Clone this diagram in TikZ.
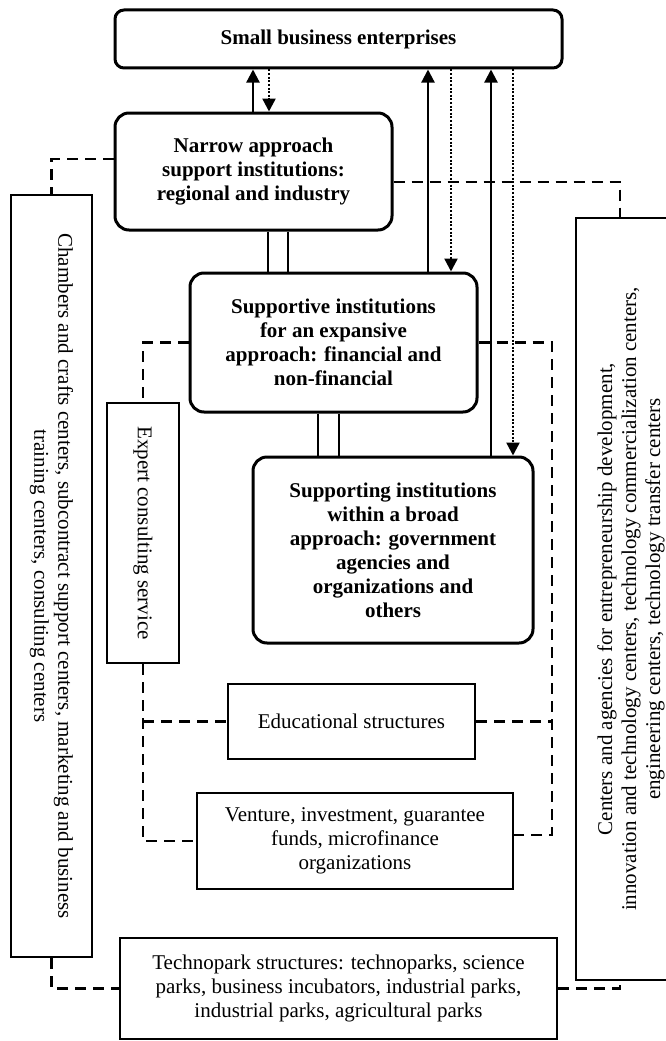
\documentclass[tikz,border=0pt]{standalone}
\usepackage{fontspec}
\setmainfont{Liberation Serif}
\usetikzlibrary{arrows.meta}
\begin{document}
\begin{tikzpicture}[x=1pt,y=-1pt,
  every node/.style={font=\fontsize{21}{24}\selectfont},
  mainbox/.style={draw, line width=3pt, rounded corners=14pt, align=center, inner sep=0pt, font=\fontsize{21}{24}\selectfont\bfseries},
  plainbox/.style={draw, line width=2.2pt, align=center, inner sep=0pt},
  sarrow/.style={line width=2.2pt, -{Triangle[length=13pt,width=13pt]}},
  darrow/.style={line width=2.4pt, dash pattern=on 2pt off 1.6pt, -{Triangle[length=13pt,width=13pt]}},
  dline/.style={line width=2.3pt, dash pattern=on 11pt off 7pt},
  dbl/.style={line width=2.2pt}
]
\fill[white] (0,0) rectangle (666,1041);
\useasboundingbox (0,0) rectangle (666,1041);

\node[mainbox, rounded corners=9pt, minimum width=447pt, minimum height=58pt] (small) at (338.5,39) {Small business enterprises};
\node[mainbox, minimum width=277pt, minimum height=117pt] (narrow) at (253.5,171.5) {Narrow approach\\support institutions:\\regional and industry};
\node[mainbox, minimum width=287pt, minimum height=139pt] (supportive) at (333.5,342.5) {Supportive institutions\\for an expansive\\approach: financial and\\non-financial};
\node[mainbox, minimum width=280pt, minimum height=186pt] (supporting) at (393,550) {Supporting institutions\\within a broad\\approach: government\\agencies and\\organizations and\\others};
\node[plainbox, rotate=-90, minimum width=762pt, minimum height=81pt] (chambers) at (51.5,576) {Chambers and crafts centers, subcontract support centers, marketing and business\\training centers, consulting centers};
\node[plainbox, rotate=-90, minimum width=260pt, minimum height=72pt] (expert) at (143,533) {Expert consulting service};
\node[plainbox, minimum width=247pt, minimum height=75pt] (edu) at (351.5,721.5) {Educational structures};
\node[plainbox, minimum width=316pt, minimum height=96pt] (venture) at (355,841) {Venture, investment, guarantee\\funds, microfinance\\organizations};
\node[plainbox, minimum width=437pt, minimum height=101pt] (tech) at (338.5,988.5) {Technopark structures: technoparks, science\\parks, business incubators, industrial parks,\\industrial parks, agricultural parks};
\node[plainbox, rotate=90, minimum width=762pt, minimum height=110pt] (rbox) at (631,599) {Centers and agencies for entrepreneurship development,\\innovation and technology centers, technology commercialization centers,\\engineering centers, technology transfer centers};

\coordinate (xa1) at (253,0);
\coordinate (xa2) at (269,0);
\coordinate (xb1) at (428,0);
\coordinate (xb2) at (451,0);
\coordinate (xc1) at (491,0);
\coordinate (xc2) at (513,0);
\coordinate (xd1) at (268,0);
\coordinate (xd2) at (288,0);
\coordinate (xe1) at (318,0);
\coordinate (xe2) at (339,0);
\coordinate (yl) at (0,159);
\coordinate (yr) at (620,182);
\coordinate (vr) at (552,835);

\draw[sarrow] (narrow.north -| xa1) -- (small.south -| xa1);
\draw[darrow] (small.south -| xa2) -- (narrow.north -| xa2);
\draw[sarrow] (supportive.north -| xb1) -- (small.south -| xb1);
\draw[darrow] (small.south -| xb2) -- (supportive.north -| xb2);
\draw[sarrow] (supporting.north -| xc1) -- (small.south -| xc1);
\draw[darrow] (small.south -| xc2) -- (supporting.north -| xc2);

\draw[dbl] (narrow.south -| xd1) -- (supportive.north -| xd1);
\draw[dbl] (narrow.south -| xd2) -- (supportive.north -| xd2);
\draw[dbl] (supportive.south -| xe1) -- (supporting.north -| xe1);
\draw[dbl] (supportive.south -| xe2) -- (supporting.north -| xe2);

\draw[dline] (narrow.west |- yl) -| (chambers.west);
\draw[dline] (chambers.east) |- (tech.west);
\draw[dline] (narrow.east |- yr) -| (rbox.east -| yr);
\draw[dline] (tech.east) -| (rbox.west -| yr);
\draw[dline] (supportive.west) -| (expert.west);
\draw[dline] (expert.east) |- (venture.west);
\draw[dline] (expert.east |- edu.west) -- (edu.west);
\draw[dline] (supportive.east) -| (vr) -- (venture.east |- vr);
\draw[dline] (edu.east) -- (edu.east -| vr);
\end{tikzpicture}
\end{document}
